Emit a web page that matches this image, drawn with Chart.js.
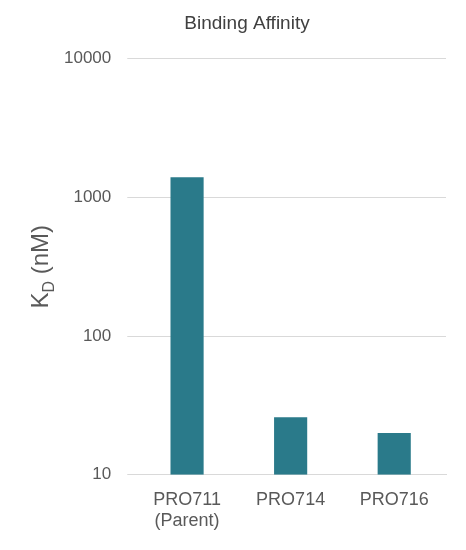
<!DOCTYPE html>
<html><head><script src="https://cdn.jsdelivr.net/npm/chart.js"></script>
<style>body{margin:0;background:#fff}#w{width:466px;height:550px}</style></head>
<body><div id="w"><canvas id="c"></canvas></div>
<script>
const categories=[["PRO711","(Parent)"],"PRO714","PRO716"];
const kdValues=[1400,26,20];
const yTicks=[10,100,1000,10000];
const F='"Liberation Sans", Arial, sans-serif';
const yTitle={id:'yTitle',afterDraw(ch){const c=ch.ctx,a=ch.chartArea;c.save();c.translate(40,(a.top+a.bottom)/2);c.rotate(-Math.PI/2);c.fillStyle='#595959';c.textBaseline='alphabetic';
c.font='24px '+F;const w1=c.measureText('K').width;c.font='16px '+F;const w2=c.measureText('D').width;c.font='24px '+F;const w3=c.measureText(' (nM)').width;
let x=-(w1+w2+w3)/2;c.fillText('K',x,8);x+=w1;c.font='16px '+F;c.fillText('D',x,14);x+=w2;c.font='24px '+F;c.fillText(' (nM)',x,8);c.restore();}};
new Chart(document.getElementById('c'),{type:'bar',data:{labels:categories,datasets:[{data:kdValues,backgroundColor:'#2a7a8a',barPercentage:0.32,categoryPercentage:1}]},
options:{responsive:true,maintainAspectRatio:false,animation:false,layout:{padding:{left:48,right:20,top:8,bottom:12}},
plugins:{legend:{display:false},tooltip:{enabled:false},title:{display:true,text:'Binding Affinity',color:'#404040',font:{family:F,size:19,weight:'normal'},padding:{top:4,bottom:24}}},
scales:{x:{grid:{display:false},border:{color:'#d9d9d9'},ticks:{color:'#595959',font:{family:F,size:18},padding:6}},
y:{type:'logarithmic',min:10,max:10000,afterBuildTicks(ax){ax.ticks=yTicks.map(v=>({value:v}));},border:{display:false},grid:{color:'#d9d9d9'},
ticks:{color:'#595959',font:{family:F,size:17},padding:16,callback:v=>String(v)}}}},plugins:[yTitle]});
</script></body></html>
